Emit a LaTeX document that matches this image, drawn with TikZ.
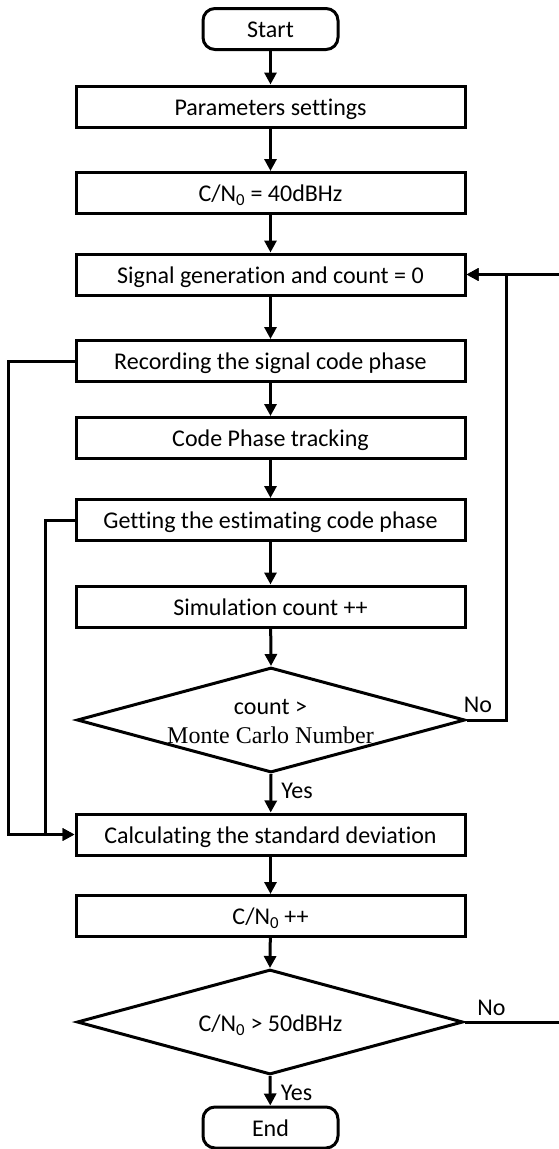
\documentclass[tikz,border=0pt]{standalone}
\usepackage{fontspec}
\setmainfont{Carlito}[Ligatures={NoCommon,NoContextual}]
\newfontfamily\timesfont{Liberation Serif}
\usetikzlibrary{arrows.meta,shapes.geometric}
\begin{document}
\begin{tikzpicture}[x=1pt,y=-1pt,
  line width=3pt,
  every node/.style={font=\fontsize{24}{28}\selectfont, inner sep=0pt, text height=20pt, text depth=2.6pt},
  proc/.style={draw, rectangle, minimum width=389pt, minimum height=41pt},
  term/.style={draw, rectangle, rounded corners=12pt, minimum width=135pt, minimum height=41pt},
  dec/.style={draw, diamond, minimum width=388pt, minimum height=105pt},
  arr/.style={-{Triangle[length=12pt,width=12pt]}}
]
\useasboundingbox (0,0) rectangle (558,1149);
\node[term] (start) at (270.5,29) {Start};
\node[proc] (par) at (270.5,106.5) {Parameters settings};
\node[proc] (cn) at (270.5,193) {C/N\textsubscript{0} = 40dBHz};
\node[proc] (sig) at (270.5,274.5) {Signal generation and count = 0};
\node[proc] (rec) at (270.5,361) {Recording the signal code phase};
\node[proc] (cpt) at (270.5,438) {Code Phase tracking};
\node[proc] (get) at (270.5,520) {Getting the estimating code phase};
\node[proc] (sim) at (270.5,606.5) {Simulation count ++};
\node[dec] (d1) at (271,720) {};
\node (d1a) at (270.5,706) {count >};
\node[font=\timesfont\fontsize{24}{28}\selectfont] (d1b) at (270.5,735) {Monte Carlo Number};
\node[proc] (calc) at (270.5,834.5) {Calculating the standard deviation};
\node[proc] (cnpp) at (270.5,916) {C/N\textsubscript{0} ++};
\node[dec, minimum width=386pt] (d2) at (270,1022) {};
\node (d2a) at (270.5,1023) {C/N\textsubscript{0} > 50dBHz};
\node[term] (end) at (270.5,1127.5) {End};

\draw[arr] (start) -- (par);
\draw[arr] (par) -- (cn);
\draw[arr] (cn) -- (sig);
\draw[arr] (sig) -- (rec);
\draw[arr] (rec) -- (cpt);
\draw[arr] (cpt) -- (get);
\draw[arr] (get) -- (sim);
\draw[arr] (sim) -- (d1.north);
\draw[arr] (d1.south) -- (calc);
\draw[arr] (calc) -- (cnpp);
\draw[arr] (cnpp) -- (d2.north);
\draw[arr] (d2.south) -- (end);

\draw[arr] (rec.west) -- ++(-66,0) |- (calc.west);
\draw[arr] (get.west) -- ++(-29,0) |- (calc.west);
\draw[arr] (d1.east) -- ++(40,0) |- (sig.east);
\coordinate (rt) at (560,274.5);
\draw[arr] (rt) -- (sig.east);
\coordinate (rb) at (560,1022);
\draw (d2.east) -- (rb);

\node (no1) at (478,704) {No};
\node (yes1) at (297,790) {Yes};
\node (no2) at (491.5,1007) {No};
\node (yes2) at (296.5,1092) {Yes};
\end{tikzpicture}
\end{document}
